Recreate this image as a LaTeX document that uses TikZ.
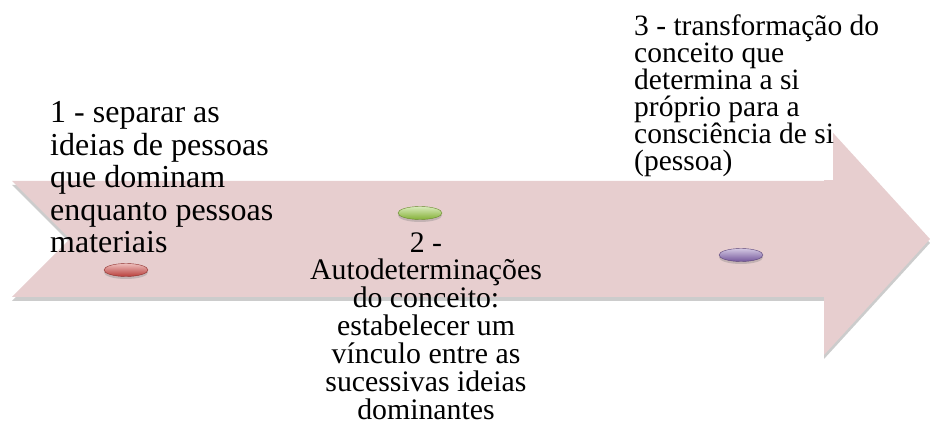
\documentclass[tikz,border=0pt]{standalone}
\usepackage{fontspec}
\setmainfont{Liberation Serif}
\usepackage{tikz}
\usetikzlibrary{shapes.geometric, shadows}
\definecolor{arrowpink}{RGB}{231, 206, 207}
\definecolor{dotred}{RGB}{204, 68, 64}
\definecolor{dotgreen}{RGB}{146, 196, 60}
\definecolor{dotpurple}{RGB}{128, 96, 172}

\tikzset{
    stage/.style={inner sep=0pt, text=black},
    dot/.style={ellipse, minimum width=44pt, minimum height=13pt, inner sep=0pt,
        draw=#1!70!black, line width=0.4pt, top color=#1!35!white, bottom color=#1!90!black,
        drop shadow={shadow xshift=0pt, shadow yshift=-2.5pt, opacity=0.35}}
}

\begin{document}
\begin{tikzpicture}[x=1pt, y=-1pt]
        \useasboundingbox (0, 0) rectangle (930, 430);
        % Arrow
        \fill [arrowpink, drop shadow={shadow xshift=0pt, shadow yshift=-4pt, opacity=0.4}]
            (12, 181) -- (824, 181) -- (824, 123) -- (930, 239) -- (824, 355)
            -- (824, 297) -- (12, 297) -- (70, 239) -- cycle;
        % Text box
        \fill [white] (626, 4) rectangle (833, 180);
        % Points
        \node [dot=dotred] (red) at (126, 270) {};
        \node [dot=dotgreen] (green) at (420, 213) {};
        \node [dot=dotpurple] (purple) at (741, 255) {};
        % Labels (base = last line)
        \node [stage, anchor=base west, align=left, font=\fontsize{32}{32.6}\selectfont] (one) at (50, 253)
            {1 - separar as\\ideias de pessoas\\que dominam\\enquanto pessoas\\materiais};
        \node [stage, anchor=base, align=center, font=\fontsize{29.8}{28}\selectfont] (two) at (426, 420)
            {2 -\\Autodeterminações\\do conceito:\\estabelecer um\\vínculo entre as\\sucessivas ideias\\dominantes};
        \node [stage, anchor=base west, align=left, font=\fontsize{29.5}{27}\selectfont] (three) at (634, 171)
            {3 - transformação do\\conceito que\\determina a si\\próprio para a\\consciência de si\\(pessoa)};
    \end{tikzpicture}
\end{document}
